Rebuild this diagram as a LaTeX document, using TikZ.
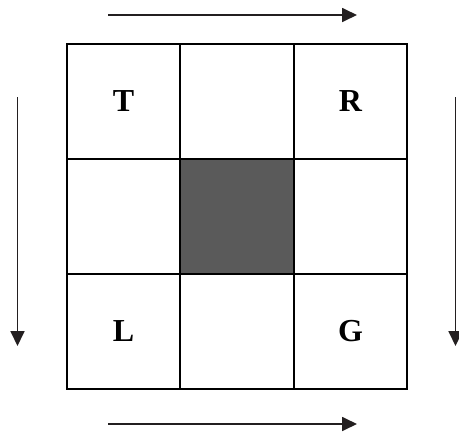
\documentclass[tikz,border=0pt]{standalone}
\usepackage{fontspec}
\setmainfont{Liberation Serif}
\usetikzlibrary{arrows.meta}
\definecolor{cellgray}{HTML}{5A5A5A}
\definecolor{arrowgray}{HTML}{231F20}
\tikzset{
  cell/.style={draw=black, line width=2pt, minimum width=113.5pt, minimum height=115pt, inner sep=0pt, outer sep=0pt, font=\fontsize{32}{32}\selectfont\bfseries},
  darkcell/.style={cell, fill=cellgray},
  flow/.style={draw=arrowgray, line width=1.8pt, -{Triangle[length=15pt,width=14pt]}}
}
\begin{document}
\begin{tikzpicture}[x=1pt,y=-1pt]
\useasboundingbox (0,0) rectangle (459,437);
\node[cell] (c11) at (123.5,101) {T};
\node[cell] (c12) at (237,101) {};
\node[cell] (c13) at (350.5,101) {R};
\node[cell] (c21) at (123.5,216) {};
\node[darkcell] (c22) at (237,216) {};
\node[cell] (c23) at (350.5,216) {};
\node[cell] (c31) at (123.5,331) {L};
\node[cell] (c32) at (237,331) {};
\node[cell] (c33) at (350.5,331) {G};
\coordinate (topA) at (108,15);
\coordinate (topB) at (357,15);
\coordinate (botA) at (108,424);
\coordinate (botB) at (357,424);
\coordinate (leftA) at (17.5,97);
\coordinate (leftB) at (17.5,346);
\coordinate (rightA) at (455.5,97);
\coordinate (rightB) at (455.5,346);
\draw[flow] (topA) -- (topB);
\draw[flow] (botA) -- (botB);
\draw[flow] (leftA) -- (leftB);
\draw[flow] (rightA) -- (rightB);
\end{tikzpicture}
\end{document}
